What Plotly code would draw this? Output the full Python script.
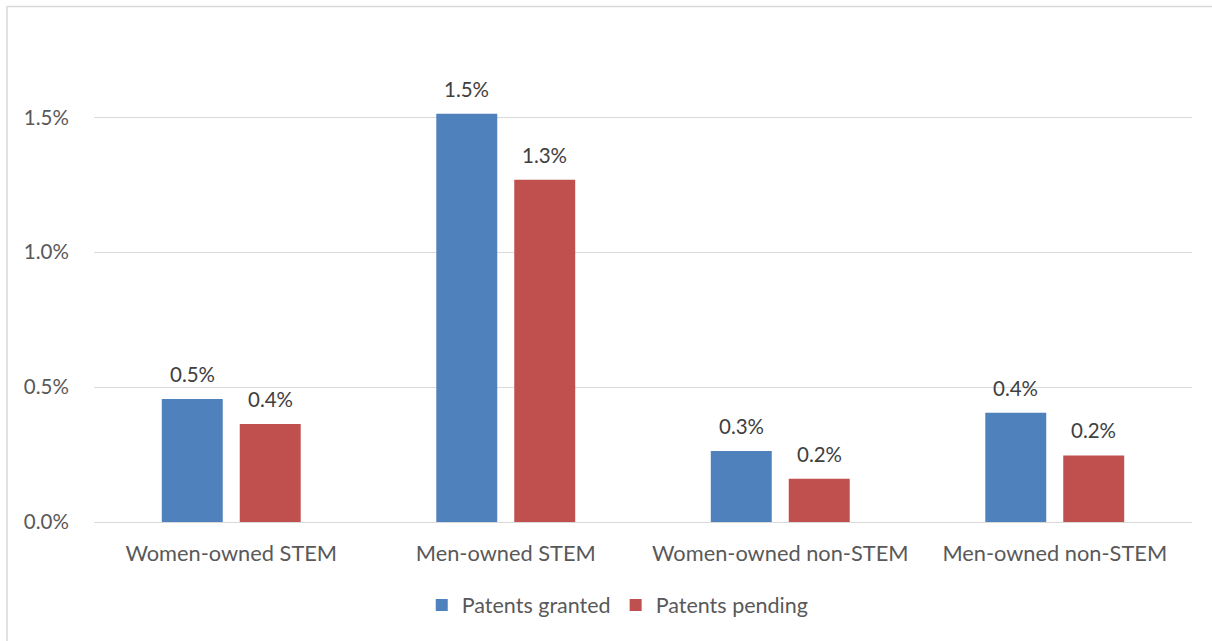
import plotly.graph_objects as go

categories = ["Women-owned STEM", "Men-owned STEM", "Women-owned non-STEM", "Men-owned non-STEM"]
granted = [0.00456, 0.01514, 0.00263, 0.00405]
pending = [0.00363, 0.01269, 0.00160, 0.00247]
series_names = ["Patents granted", "Patents pending"]
colors = ["#4F81BD", "#C0504D"]
tick_vals = [0, 0.005, 0.01, 0.015]

FONT = "Lato"
TXT = "#595959"
SIZE = 20.5

fig = go.Figure()
annotations = []
for (name, vals, col), shift in zip(zip(series_names, [granted, pending], colors), [-39, 39]):
    fig.add_trace(go.Bar(
        x=categories, y=vals, name=name,
        marker=dict(color=col, line=dict(width=0)),
    ))
    for c, v in zip(categories, vals):
        annotations.append(dict(
            x=c, y=v, xref="x", yref="y", text=f"{v*100:.1f}%", showarrow=False,
            xshift=shift, yshift=25, yanchor="middle",
            font=dict(family=FONT, size=SIZE, color="#404040"),
        ))

fig.update_layout(
    width=1212, height=641,
    margin=dict(l=94, r=20, t=49.5, b=119),
    paper_bgcolor="white", plot_bgcolor="white",
    barmode="group", bargap=0.432, bargroupgap=0.218,
    font=dict(family=FONT, size=SIZE, color=TXT),
    legend=dict(orientation="h", x=0.477, xanchor="center", y=-0.176, yanchor="middle",
                font=dict(family=FONT, size=21.5, color=TXT), itemwidth=30,
                traceorder="normal"),
    xaxis=dict(showgrid=False, showline=False, ticks="outside", ticklen=12,
               tickcolor="rgba(0,0,0,0)", tickfont=dict(size=21.8, color=TXT)),
    yaxis=dict(range=[0, 0.0175], tickvals=tick_vals, tickformat=".1%",
               showgrid=True, gridcolor="#D9D9D9", gridwidth=1,
               zeroline=True, zerolinecolor="#D9D9D9", zerolinewidth=1,
               showline=False, ticks="outside", ticklen=20, tickcolor="rgba(0,0,0,0)",
               tickfont=dict(size=SIZE, color=TXT)),
    annotations=annotations,
    shapes=[dict(type="rect", xref="paper", yref="paper",
                 x0=-0.0792, x1=1.2, y0=-0.5, y1=1.092,
                 line=dict(color="#D9D9D9", width=1.5), fillcolor="rgba(0,0,0,0)",
                 layer="below")],
)

fig.write_html("out.html")
